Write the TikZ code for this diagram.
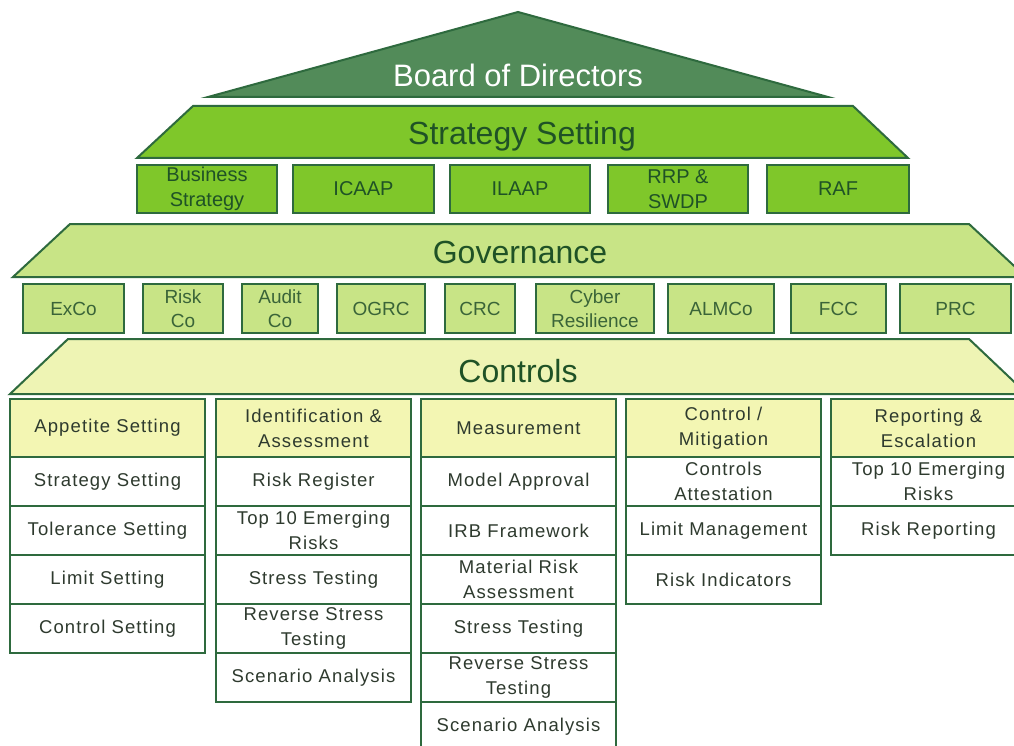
\documentclass[tikz,border=0pt]{standalone}
\usepackage{fontspec}
\setmainfont{Liberation Sans}
\newfontfamily\colfont[LetterSpace=6]{Liberation Sans}
\definecolor{roofgreen}{HTML}{528B59}
\definecolor{bord}{HTML}{2E6A3E}
\definecolor{lime}{HTML}{7FC72A}
\definecolor{gov}{HTML}{C8E486}
\definecolor{ctrl}{HTML}{EEF4B4}
\definecolor{hdr}{HTML}{F3F6B3}
\definecolor{darktext}{HTML}{1F5226}
\definecolor{govtext}{HTML}{3A6438}
\definecolor{celltext}{HTML}{2E3A2E}
\begin{document}
\begin{tikzpicture}[x=1pt,y=-1pt,
  band/.style={draw=bord, line width=2pt, line join=miter},
  title/.style={anchor=base, font=\fontsize{32}{32}\selectfont, text=darktext, inner sep=0pt},
  sbox/.style={draw=bord, line width=2pt, fill=lime, text=darktext, align=center, inner sep=0pt,
    font=\fontsize{20}{25}\selectfont, minimum height=48pt},
  gbox/.style={draw=bord, line width=2pt, fill=gov, text=govtext, align=center, inner sep=0pt,
    font=\fontsize{19}{24}\selectfont, minimum height=49pt},
  hcell/.style={draw=bord, line width=2pt, fill=hdr, text=celltext, align=center, inner sep=0pt,
    font=\colfont\fontsize{18.5}{25}\selectfont, minimum width=195pt, minimum height=58pt},
  cell/.style={draw=bord, line width=2pt, fill=white, text=celltext, align=center, inner sep=0pt,
    font=\colfont\fontsize{18.5}{25}\selectfont, minimum width=195pt, minimum height=49pt}
]
\useasboundingbox (0,0) rectangle (1014,746);
\clip (0,0) rectangle (1014,746);
\fill[white] (0,0) rectangle (1014,746);

% roof
\draw[band, fill=roofgreen] (208,97) -- (518,12) -- (828,97) -- cycle;
\node[anchor=base, font=\fontsize{31}{31}\selectfont, text=white, inner sep=0pt] (board) at (518,87) {Board of Directors};

% strategy setting
\draw[band, fill=lime] (193,106) -- (853,106) -- (908,158) -- (137,158) -- cycle;
\node[title] (strategy) at (522,145) {Strategy Setting};
\node[sbox, minimum width=140pt] (bus) at (207,189) {Business\\Strategy};
\node[sbox, minimum width=141pt] (icaap) at (363.5,189) {ICAAP};
\node[sbox, minimum width=140pt] (ilaap) at (520,189) {ILAAP};
\node[sbox, minimum width=140pt] (rrp) at (678,189) {RRP \&\\SWDP};
\node[sbox, minimum width=142pt] (raf) at (838,189) {RAF};

% governance
\draw[band, fill=gov] (70,224) -- (969,224) -- (1026,277) -- (13,277) -- cycle;
\node[title] (governance) at (520,263) {Governance};
\node[gbox, minimum width=101pt] (exco) at (73.5,308.5) {ExCo};
\node[gbox, minimum width=80pt] (riskco) at (183,308.5) {Risk\\Co};
\node[gbox, minimum width=76pt] (auditco) at (280,308.5) {Audit\\Co};
\node[gbox, minimum width=88pt] (ogrc) at (381,308.5) {OGRC};
\node[gbox, minimum width=70pt] (crc) at (480,308.5) {CRC};
\node[gbox, minimum width=118pt] (cyber) at (595,308.5) {Cyber\\Resilience};
\node[gbox, minimum width=106pt] (almco) at (721,308.5) {ALMCo};
\node[gbox, minimum width=95pt] (fcc) at (838.5,308.5) {FCC};
\node[gbox, minimum width=111pt] (prc) at (955.5,308.5) {PRC};

% controls
\draw[band, fill=ctrl] (68,339) -- (969,339) -- (1027,394) -- (10,394) -- cycle;
\node[title] (controls) at (518,382) {Controls};

% column 1
\node[hcell] (c1h) at (107.5,428) {Appetite Setting};
\node[cell] (c1a) at (107.5,481.5) {Strategy Setting};
\node[cell] (c1b) at (107.5,530.5) {Tolerance Setting};
\node[cell] (c1c) at (107.5,579.5) {Limit Setting};
\node[cell] (c1d) at (107.5,628.5) {Control Setting};

% column 2
\node[hcell] (c2h) at (313.5,428) {Identification \&\\Assessment};
\node[cell] (c2a) at (313.5,481.5) {Risk Register};
\node[cell] (c2b) at (313.5,530.5) {Top 10 Emerging\\Risks};
\node[cell] (c2c) at (313.5,579.5) {Stress Testing};
\node[cell] (c2d) at (313.5,628.5) {Reverse Stress\\Testing};
\node[cell] (c2e) at (313.5,677.5) {Scenario Analysis};

% column 3
\node[hcell] (c3h) at (518.5,428) {Measurement};
\node[cell] (c3a) at (518.5,481.5) {Model Approval};
\node[cell] (c3b) at (518.5,530.5) {IRB Framework};
\node[cell] (c3c) at (518.5,579.5) {Material Risk\\Assessment};
\node[cell] (c3d) at (518.5,628.5) {Stress Testing};
\node[cell] (c3e) at (518.5,677.5) {Reverse Stress\\Testing};
\node[cell] (c3f) at (518.5,726.5) {Scenario Analysis};

% column 4
\node[hcell] (c4h) at (723.5,428) {Control /\\Mitigation};
\node[cell] (c4a) at (723.5,481.5) {Controls\\Attestation};
\node[cell] (c4b) at (723.5,530.5) {Limit Management};
\node[cell] (c4c) at (723.5,579.5) {Risk Indicators};

% column 5
\node[hcell] (c5h) at (928.5,428) {Reporting \&\\Escalation};
\node[cell] (c5a) at (928.5,481.5) {Top 10 Emerging\\Risks};
\node[cell] (c5b) at (928.5,530.5) {Risk Reporting};
\end{tikzpicture}
\end{document}
